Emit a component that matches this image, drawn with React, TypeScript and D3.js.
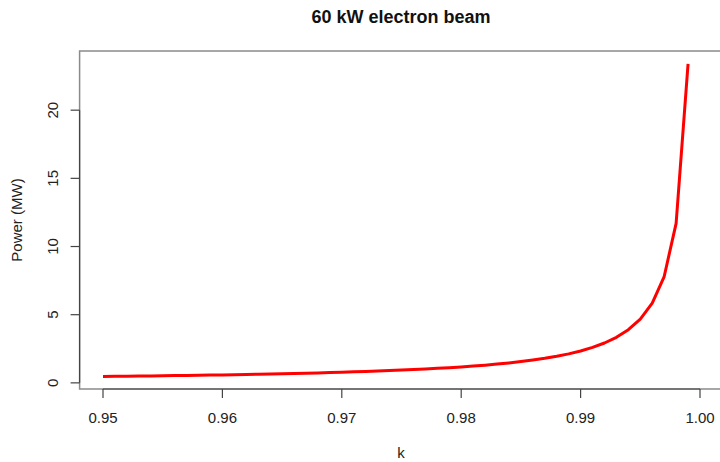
import React from "react";
import * as d3 from "d3";

const kValues: number[] = [
  0.950, 0.951, 0.952, 0.953, 0.954, 0.955, 0.956, 0.957, 0.958, 0.959,
  0.960, 0.961, 0.962, 0.963, 0.964, 0.965, 0.966, 0.967, 0.968, 0.969,
  0.970, 0.971, 0.972, 0.973, 0.974, 0.975, 0.976, 0.977, 0.978, 0.979,
  0.980, 0.981, 0.982, 0.983, 0.984, 0.985, 0.986, 0.987, 0.988, 0.989,
  0.990, 0.991, 0.992, 0.993, 0.994, 0.995, 0.996, 0.997, 0.998, 0.999,
];
const powerMW: number[] = [
  0.468, 0.478, 0.488, 0.498, 0.509, 0.520, 0.532, 0.544, 0.557, 0.571,
  0.585, 0.600, 0.616, 0.632, 0.650, 0.669, 0.688, 0.709, 0.731, 0.755,
  0.780, 0.807, 0.836, 0.867, 0.900, 0.936, 0.975, 1.017, 1.064, 1.114,
  1.170, 1.232, 1.300, 1.376, 1.463, 1.560, 1.671, 1.800, 1.950, 2.127,
  2.340, 2.600, 2.925, 3.343, 3.900, 4.680, 5.850, 7.800, 11.70, 23.40,
];
const xTicks: number[] = [0.95, 0.96, 0.97, 0.98, 0.99, 1.0];
const yTicks: number[] = [0, 5, 10, 15, 20];
const title = "60 kW electron beam";
const xLabel = "k";
const yLabel = "Power (MW)";

export default function App() {
  const W = 720, H = 462;
  const left = 79.6, right = 722, top = 51, bottom = 389;
  const x = d3.scaleLinear().domain([0.95, 1.0]).range([103, 700]);
  const y = d3.scaleLinear().domain([-0.45, 24.34]).range([bottom, top]);
  const line = d3.line<number>().x((_, i) => x(kValues[i])).y((d) => y(d));
  const font = "'Liberation Sans', Arial, Helvetica, sans-serif";
  const axisCol = "#444";
  const textCol = "#222";
  return (
    <svg width={W} height={H} style={{ position: "absolute", left: 0, top: 0 }} fontFamily={font}>
      <rect x={0} y={0} width={W} height={H} fill="#fff" />
      <text x={401} y={23} textAnchor="middle" fontWeight="bold" fontSize={18} fill="#111">{title}</text>
      <rect x={left} y={top} width={right - left} height={bottom - top} fill="none" stroke="#8a8a8a" strokeWidth={1.5} />
      {/* x axis */}
      <line x1={x(xTicks[0])} x2={x(xTicks[xTicks.length - 1])} y1={bottom} y2={bottom} stroke={axisCol} strokeWidth={1.2} />
      {xTicks.map((t) => (
        <g key={"x" + t}>
          <line x1={x(t)} x2={x(t)} y1={bottom} y2={bottom + 9} stroke={axisCol} strokeWidth={1.2} />
          <text x={x(t)} y={422.5} textAnchor="middle" fontSize={15} fill={textCol}>{t.toFixed(2)}</text>
        </g>
      ))}
      {/* y axis */}
      <line x1={left} x2={left} y1={y(yTicks[0])} y2={y(yTicks[yTicks.length - 1])} stroke={axisCol} strokeWidth={1.2} />
      {yTicks.map((t) => (
        <g key={"y" + t}>
          <line x1={left - 9} x2={left} y1={y(t)} y2={y(t)} stroke={axisCol} strokeWidth={1.2} />
          <text transform={`translate(57.5,${y(t)}) rotate(-90)`} textAnchor="middle" fontSize={15} fill={textCol}>{String(t)}</text>
        </g>
      ))}
      <text x={401} y={458} textAnchor="middle" fontSize={15} fill={textCol}>{xLabel}</text>
      <text transform={`translate(22,${(top + bottom) / 2}) rotate(-90)`} textAnchor="middle" fontSize={15} fill={textCol}>{yLabel}</text>
      <path d={line(powerMW) || ""} fill="none" stroke="#ff0000" strokeWidth={3} strokeLinejoin="round" />
    </svg>
  );
}
